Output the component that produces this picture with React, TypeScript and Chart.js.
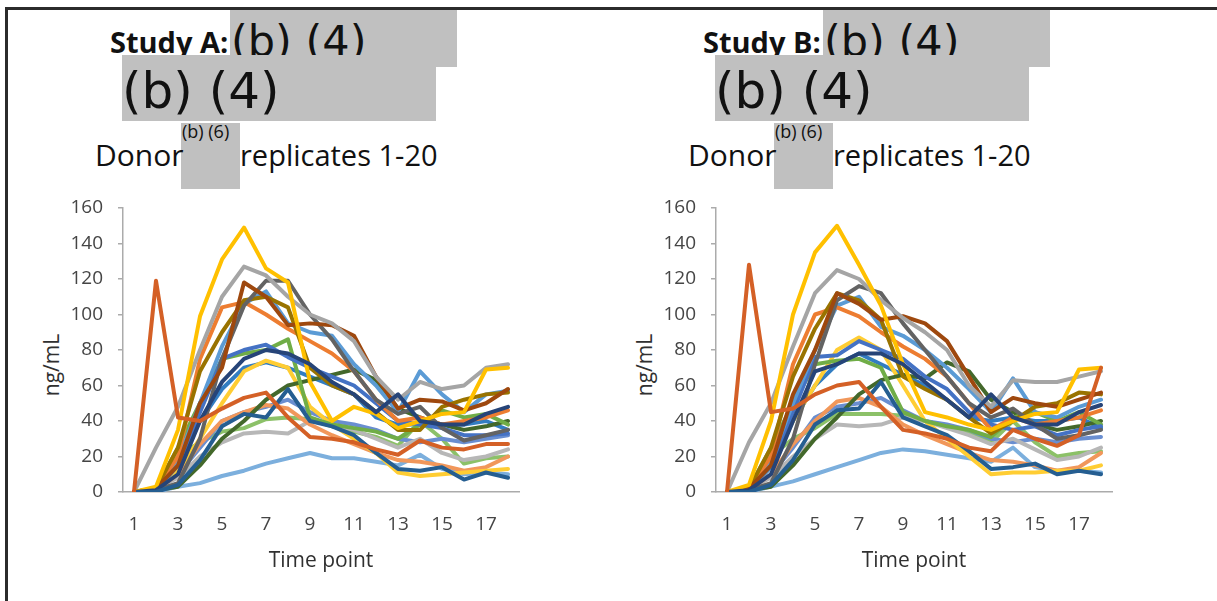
import React, { useEffect, useRef } from 'react';
import { Chart, registerables } from 'chart.js';

Chart.register(...registerables);

// ---------- data ----------
const timePoints = ['1', '2', '3', '4', '5', '6', '7', '8', '9', '10', '11', '12', '13', '14', '15', '16', '17', '18'];
const yMin = 0;
const yMax = 160;
const yStep = 20;

const seriesColors = [
  '#D46026', '#255E91', '#264478', '#FFC000', '#A5A5A5', '#9E480E', '#636363', '#997300', '#ED7D31', '#5B9BD5',
  '#4472C4', '#70AD47', '#43682B', '#FFCD33', '#F1975A', '#B7B7B7', '#7CAFDD', '#698ED0', '#8CC168', '#327DC2',
];

// Study A, replicates
const a01 = [0, 119, 42, 40, 47, 53, 56, 42, 31, 30, 28, 24, 21, 29, 25, 24, 27, 27];
const a02 = [0, 0, 4, 18, 37, 44, 42, 58, 40, 37, 32, 22, 13, 12, 14, 7, 11, 8];
const a03 = [0, 1, 10, 40, 62, 75, 80, 78, 72, 62, 55, 45, 55, 40, 38, 38, 44, 48];
const a04 = [0, 3, 35, 99, 131, 149, 126, 118, 62, 40, 48, 44, 36, 40, 44, 45, 69, 70];
const a05 = [0, 25, 48, 80, 110, 127, 122, 110, 100, 95, 85, 65, 52, 62, 58, 60, 70, 72];
const a06 = [0, 2, 15, 50, 70, 118, 110, 94, 95, 94, 88, 65, 47, 52, 51, 46, 50, 58];
const a07 = [0, 1, 5, 30, 75, 105, 119, 119, 100, 86, 68, 52, 44, 48, 36, 29, 32, 35];
const a08 = [0, 2, 25, 68, 90, 108, 110, 104, 70, 60, 55, 45, 35, 35, 48, 52, 55, 56];
const a09 = [0, 2, 20, 75, 104, 107, 100, 92, 85, 78, 68, 52, 40, 42, 38, 40, 42, 46];
const a10 = [0, 1, 18, 50, 82, 106, 113, 95, 90, 88, 72, 60, 45, 68, 55, 45, 55, 57];
const a11 = [0, 1, 15, 45, 75, 80, 83, 76, 70, 65, 60, 50, 40, 38, 36, 32, 32, 33];
const a12 = [0, 2, 25, 50, 75, 78, 80, 86, 42, 38, 36, 34, 30, 38, 46, 42, 44, 38];
const a13 = [0, 1, 3, 15, 30, 40, 52, 60, 63, 66, 69, 63, 47, 42, 38, 35, 37, 40];
const a14 = [0, 1, 12, 30, 50, 68, 74, 70, 48, 38, 30, 22, 11, 9, 10, 11, 12, 13];
const a15 = [0, 1, 10, 27, 40, 45, 49, 47, 38, 32, 27, 22, 18, 17, 15, 12, 14, 20];
const a16 = [0, 2, 8, 20, 28, 33, 34, 33, 40, 38, 35, 30, 25, 30, 22, 18, 20, 24];
const a17 = [0, 0, 3, 5, 9, 12, 16, 19, 22, 19, 19, 17, 15, 21, 13, 10, 11, 10];
const a18 = [0, 1, 10, 25, 40, 45, 48, 52, 45, 40, 38, 35, 30, 28, 30, 28, 30, 32];
const a19 = [0, 2, 20, 28, 34, 36, 41, 42, 41, 37, 34, 31, 26, 40, 30, 16, 19, 20];
const a20 = [0, 1, 14, 40, 58, 70, 73, 70, 65, 60, 55, 42, 38, 38, 38, 38, 40, 35];

// Study B, replicates
const b01 = [0, 128, 45, 47, 55, 60, 62, 48, 35, 33, 30, 25, 23, 35, 30, 26, 32, 70];
const b02 = [0, 0, 4, 18, 38, 46, 47, 62, 42, 37, 32, 23, 13, 14, 16, 10, 12, 10];
const b03 = [0, 1, 10, 40, 68, 72, 78, 78, 72, 62, 52, 42, 55, 42, 38, 38, 45, 49];
const b04 = [0, 4, 40, 100, 135, 150, 128, 105, 72, 45, 42, 38, 35, 40, 44, 45, 69, 70];
const b05 = [0, 28, 50, 82, 112, 125, 120, 108, 98, 90, 80, 60, 48, 63, 62, 62, 65, 68];
const b06 = [0, 2, 15, 55, 80, 112, 106, 97, 99, 95, 85, 65, 45, 53, 50, 48, 52, 56];
const b07 = [0, 1, 5, 30, 72, 108, 116, 112, 95, 80, 65, 50, 42, 47, 38, 30, 32, 35];
const b08 = [0, 2, 25, 65, 92, 112, 108, 97, 65, 58, 52, 42, 33, 40, 48, 50, 56, 55];
const b09 = [0, 2, 20, 72, 100, 104, 99, 90, 82, 75, 65, 50, 35, 42, 38, 40, 42, 46];
const b10 = [0, 1, 18, 50, 80, 105, 110, 93, 88, 80, 70, 58, 45, 64, 45, 42, 48, 52];
const b11 = [0, 1, 15, 45, 76, 77, 85, 80, 75, 65, 58, 45, 38, 35, 37, 32, 35, 37];
const b12 = [0, 2, 25, 50, 72, 74, 75, 70, 45, 40, 37, 35, 31, 42, 45, 40, 45, 38];
const b13 = [0, 1, 3, 15, 30, 42, 55, 63, 66, 64, 73, 68, 52, 45, 38, 35, 37, 40];
const b14 = [0, 1, 15, 40, 60, 80, 87, 80, 60, 40, 30, 20, 10, 11, 11, 12, 12, 15];
const b15 = [0, 1, 10, 27, 40, 51, 53, 48, 38, 32, 27, 22, 18, 17, 15, 12, 14, 22];
const b16 = [0, 2, 8, 20, 30, 38, 37, 38, 42, 40, 36, 32, 27, 30, 24, 18, 20, 25];
const b17 = [0, 0, 3, 6, 10, 14, 18, 22, 24, 23, 21, 19, 17, 25, 14, 12, 12, 11];
const b18 = [0, 1, 10, 25, 42, 48, 50, 53, 46, 40, 38, 35, 30, 28, 30, 28, 30, 31];
const b19 = [0, 2, 20, 30, 36, 44, 44, 44, 43, 40, 37, 33, 28, 40, 28, 20, 22, 23];
const b20 = [0, 1, 14, 40, 60, 72, 78, 72, 66, 60, 52, 42, 40, 42, 40, 40, 42, 36];

const studyA = [a01, a02, a03, a04, a05, a06, a07, a08, a09, a10, a11, a12, a13, a14, a15, a16, a17, a18, a19, a20];
const studyB = [b01, b02, b03, b04, b05, b06, b07, b08, b09, b10, b11, b12, b13, b14, b15, b16, b17, b18, b19, b20];

// ---------- styles ----------
const axisColor = '#ABABAB';
const tickColor = '#454545';
const grayBox = '#C0C0C0';

function LineChart({ series, left }: { series: number[][]; left: number }) {
  const ref = useRef<HTMLCanvasElement | null>(null);
  useEffect(() => {
    if (!ref.current) return;
    const chart = new Chart(ref.current, {
      type: 'line',
      data: {
        labels: timePoints,
        datasets: series.map((values, i) => ({
          label: 'Replicate ' + (i + 1),
          data: values,
          borderColor: seriesColors[i],
          backgroundColor: seriesColors[i],
          borderWidth: 4,
          pointRadius: 0,
          tension: 0,
          fill: false,
          borderJoinStyle: 'round' as const,
          borderCapStyle: 'round' as const,
        })),
      },
      options: {
        animation: false,
        responsive: false,
        events: [],
        layout: { padding: { top: 18, right: 11, left: 0, bottom: 0 } },
        plugins: { legend: { display: false }, tooltip: { enabled: false }, title: { display: false } },
        scales: {
          x: {
            type: 'category',
            offset: true,
            grid: { display: false, drawTicks: false },
            border: { display: true, color: axisColor, width: 1.5 },
            ticks: {
              autoSkip: false,
              maxRotation: 0,
              padding: 21,
              color: tickColor,
              font: { family: 'Open Sans', size: 19 },
              callback: (_v: any, i: number) => (i % 2 === 0 ? timePoints[i] : ''),
            },
            title: {
              display: true,
              text: 'Time point',
              color: '#303030',
              font: { family: 'Open Sans', size: 21 },
              padding: { top: 0, bottom: 16 },
            },
            afterFit: (s: any) => {
              s.height = 98;
              s.paddingLeft = 0;
              s.paddingRight = 0;
            },
          },
          y: {
            min: yMin,
            max: yMax,
            ticks: {
              stepSize: yStep,
              padding: 15,
              color: tickColor,
              font: { family: 'Open Sans', size: 19 },
            },
            grid: { drawOnChartArea: false, drawTicks: true, tickLength: 5, color: axisColor, lineWidth: 1.5 },
            border: { display: true, color: axisColor, width: 1.5 },
            afterFit: (s: any) => {
              s.width = 103;
              s.paddingTop = 0;
              s.paddingBottom = 0;
            },
          },
        },
      },
    } as any);
    return () => chart.destroy();
  }, [series]);
  return (
    <canvas
      ref={ref}
      width={510}
      height={400}
      style={{ position: 'absolute', left, top: 190, width: 510, height: 400 }}
    />
  );
}

const abs = (s: React.CSSProperties): React.CSSProperties => ({ position: 'absolute', whiteSpace: 'nowrap', ...s });

function Panel({ dx, study, series }: { dx: number; study: string; series: number[][] }) {
  return (
    <>
      <div style={abs({ left: 110 + dx, top: 27, fontFamily: '"Open Sans"', fontWeight: 700, fontSize: 29, lineHeight: 1, color: '#111' })}>
        {study}
      </div>
      <div style={abs({ left: 230 + dx, top: 10, width: 227, height: 57, background: grayBox })} />
      <div style={abs({ left: 231 + dx, top: 20, fontFamily: '"DejaVu Sans"', fontSize: 43, lineHeight: 1, color: '#111' })}>
        (b) (4)
      </div>
      <div style={abs({ left: 122 + dx, top: 55, width: 314, height: 66, background: grayBox })} />
      <div style={abs({ left: 122 + dx, top: 66, fontFamily: '"DejaVu Sans"', fontSize: 50, lineHeight: 1, color: '#111' })}>
        (b) (4)
      </div>
      <div style={abs({ left: 181 + dx, top: 123, width: 59, height: 66, background: grayBox })} />
      <div style={abs({ left: 182 + dx, top: 122, fontFamily: '"Open Sans"', fontSize: 18, lineHeight: 1, color: '#111' })}>
        (b) (6)
      </div>
      <div style={abs({ left: 95 + dx, top: 140, fontFamily: '"Open Sans"', fontSize: 30, lineHeight: 1, color: '#111' })}>
        Donor
      </div>
      <div style={abs({ left: 240 + dx, top: 140, fontFamily: '"Open Sans"', fontSize: 29, lineHeight: 1, color: '#111' })}>
        replicates 1-20
      </div>
      <div
        style={abs({
          left: 51 + dx,
          top: 365,
          fontFamily: '"Open Sans"',
          fontSize: 21,
          lineHeight: 1,
          color: '#303030',
          transform: 'translate(-50%, -50%) rotate(-90deg)',
        })}
      >
        ng/mL
      </div>
      <LineChart series={series} left={20 + dx} />
    </>
  );
}

export default function App() {
  return (
    <div style={{ position: 'absolute', left: 0, top: 0, width: 1217, height: 601, background: '#fff', overflow: 'hidden' }}>
      <div style={{ position: 'absolute', left: 5, top: 7, width: 1220, height: 600, borderTop: '3px solid #2b2b2b', borderLeft: '3px solid #2b2b2b' }} />
      <Panel dx={0} study="Study A:" series={studyA} />
      <Panel dx={593} study="Study B:" series={studyB} />
    </div>
  );
}
